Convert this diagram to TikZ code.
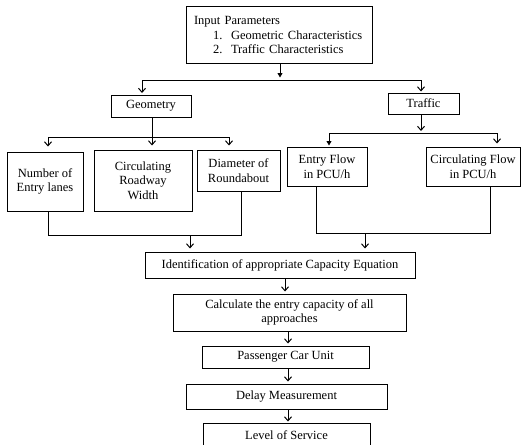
\documentclass[tikz,border=0pt]{standalone}
\usepackage{fontspec}
\setmainfont{Liberation Serif}
\usetikzlibrary{arrows.meta}
\usetikzlibrary{calc}
\tikzset{
	box/.style={draw, line width=1pt, align=center, inner sep=2pt, font=\fontsize{12.5}{14.5}\selectfont},
	bus/.style={line width=0.8pt},
	arr/.style={line width=0.8pt, -{Straight Barb[length=4pt,width=7pt,line width=1pt]}},
	farr/.style={line width=0.8pt, -{Triangle[length=4.5pt,width=5pt]}}
}

\begin{document}
\begin{tikzpicture}[x=1pt,y=-1pt]
	% page: 526 x 444, pixel coordinates, y downwards
	\useasboundingbox (0,0) rectangle (526,444);
	\clip (0,0) rectangle (526,444);
	% input box
	\node[box, minimum width=186, minimum height=56, text width=170, align=left] (input) at (279,35)
		{Input Parameters\\
		\hspace*{19pt}\makebox[18pt][l]{1.}Geometric Characteristics\\
		\hspace*{19pt}\makebox[18pt][l]{2.}Traffic Characteristics};
	% second level
	\node[box, minimum width=80, minimum height=22] (geo) at (151,106) {Geometry};
	\node[box, minimum width=71, minimum height=21] (traffic) at (423.5,103.5) {Traffic};
	% geometric characteristics
	\node[box, minimum width=76, minimum height=59] (lanes) at (45,181.5) {Number of\\Entry lanes};
	\node[box, minimum width=98, minimum height=61] (width) at (143,180.5) {Circulating\\Roadway\\Width};
	\node[box, minimum width=83, minimum height=41] (diam) at (238.5,170.5) {Diameter of\\Roundabout};
	% traffic characteristics
	\node[box, minimum width=80, minimum height=39] (entry) at (327,166.5) {Entry Flow\\in PCU/h};
	\node[box, minimum width=94, minimum height=39] (circ) at (473,166.5) {Circulating Flow\\in PCU/h};
	% main chain
	\node[box, minimum width=270, minimum height=26] (ident) at (280,265) {Identification of appropriate Capacity Equation};
	\node[box, minimum width=233, minimum height=37] (calc) at (289.5,312.5) {Calculate the entry capacity of all\\approaches};
	\node[box, minimum width=167, minimum height=22] (pcu) at (285.5,357) {Passenger Car Unit};
	\node[box, minimum width=201, minimum height=25] (delay) at (286.5,396.5) {Delay Measurement};
	\node[box, minimum width=167, minimum height=24] (los) at (286.5,435) {Level of Service};

	% top split
	\coordinate (topmid) at (280,80);
	\coordinate (topL) at (142,80);
	\coordinate (topR) at (421,80);
	\draw[farr] (input.south -| topmid) -- ($(topmid)+(0,-2.5)$);
	\draw[bus] (topL) -- (topR);
	\draw[arr] (topL) -- ($(topL |- geo.north)+(0,-1.5)$);
	\draw[arr] (topR) -- ($(topR |- traffic.north)+(0,-1)$);
	% geometry split
	\coordinate (geoL) at (48,137);
	\coordinate (geoM) at (152,137);
	\coordinate (geoR) at (229,137);
	\draw[bus] (geo.south -| geoM) -- (geoM);
	\draw[bus] (geoL) -- (geoR);
	\draw[arr] (geoL) -- ($(geoL |- lanes.north)+(0,-5)$);
	\draw[arr] (geoM) -- ($(geoM |- width.north)+(0,-4)$);
	\draw[arr] (geoR) -- ($(geoR |- diam.north)+(0,-4)$);
	% traffic split
	\coordinate (trM) at (421,133);
	\coordinate (trL) at (329,133);
	\coordinate (trR) at (497,133);
	\draw[arr] (traffic.south -| trM) -- ($(trM)+(0,-2)$);
	\draw[bus] (trL) -- (trR);
	\draw[farr] (trL) -- ($(trL |- entry.north)+(0,-1)$);
	\draw[arr] (trR) -- ($(trR |- circ.north)+(0,-3)$);
	% joining geometry
	\coordinate (jgL) at (48,235);
	\coordinate (jgR) at (241,235);
	\coordinate (jgM) at (190,235);
	\draw[bus] (jgL |- lanes.south) -- (jgL) -- (jgR) -- (jgR |- diam.south);
	\draw[arr] (jgM) -- ($(jgM |- ident.north)+(0,-3)$);
	% joining traffic
	\coordinate (jtL) at (316,233);
	\coordinate (jtR) at (490,233);
	\coordinate (jtM) at (365,233);
	\draw[bus] (jtL |- entry.south) -- (jtL) -- (jtR) -- (jtR |- circ.south);
	\draw[arr] (jtM) -- ($(jtM |- ident.north)+(0,-3)$);
	% down the chain
	\coordinate (stem) at (285,0);
	\coordinate (spine) at (288,0);
	\draw[arr] (stem |- ident.south) -- ($(stem |- calc.north)+(0,-2)$);
	\draw[arr] (spine |- calc.south) -- ($(spine |- pcu.north)+(0,-2)$);
	\draw[arr] (spine |- pcu.south) -- ($(spine |- delay.north)+(0,-2)$);
	\draw[arr] (spine |- delay.south) -- ($(spine |- los.north)+(0,-1)$);
\end{tikzpicture}
\end{document}
